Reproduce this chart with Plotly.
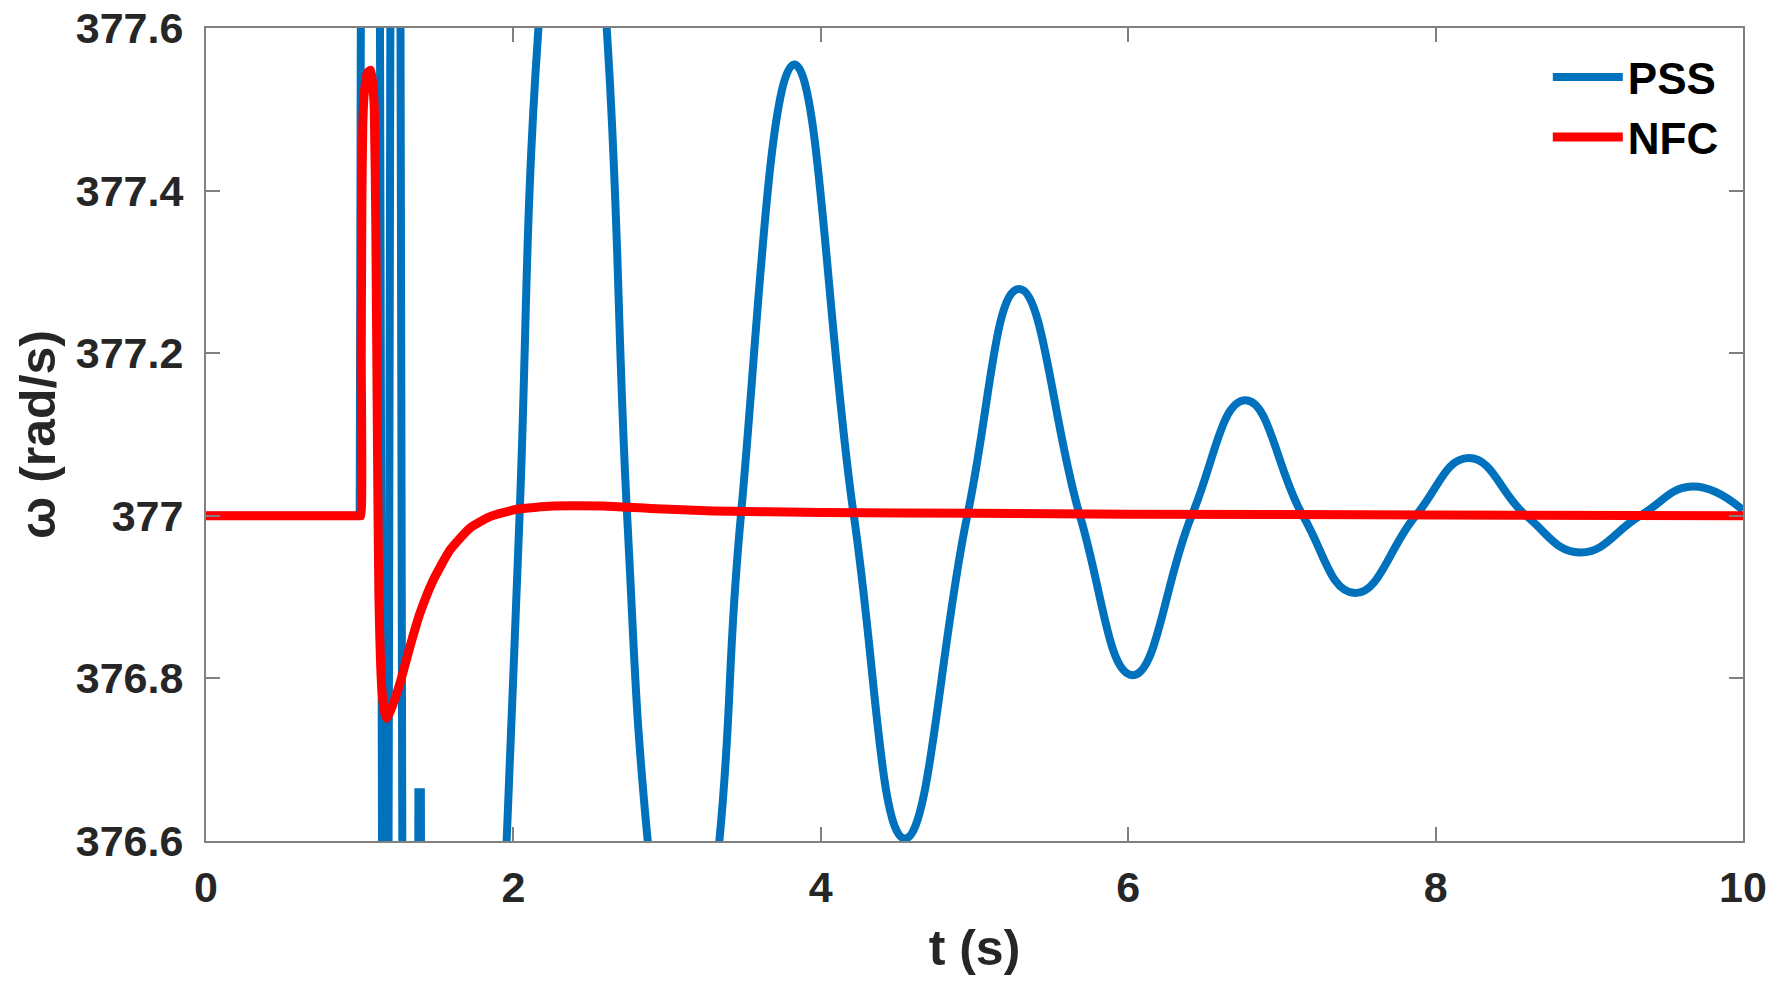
import plotly.graph_objects as go

# ---------------- data ----------------
# PSS, fast initial swings (straight segments)
pss_early_t = [0.0, 1.0, 1.018, 1.12, 1.16, 1.175, 1.21, 1.255, 1.29, 1.37, 1.382, 1.398, 1.41, 1.45]
pss_early_w = [377.0, 377.0, 378.5, 378.5, 375.5, 375.5, 378.5, 378.5, 375.5, 375.5, 376.66, 376.66, 375.5, 375.5]

# PSS, damped oscillation (peaks, troughs and level crossings)
pss_t = [1.45, 1.68, 1.956, 2.04, 2.163, 2.40, 2.607, 2.74, 2.874, 3.107, 3.34, 3.48,
         3.828, 4.215, 4.548, 4.953, 5.290, 5.686, 6.029, 6.413, 6.763, 7.137,
         7.474, 7.87, 8.215, 8.59, 8.94, 9.33, 9.67, 10.0]
pss_w = [375.5, 375.35, 376.6, 377.0, 377.6, 378.05, 377.6, 377.0, 376.6, 376.25, 376.6, 377.0,
         377.555, 377.0, 376.603, 377.0, 377.279, 377.0, 376.804, 377.0, 377.142, 377.0,
         376.905, 377.0, 377.071, 377.0, 376.955, 377.0, 377.036, 377.007]

# NFC
nfc_t = [0.0, 0.5, 0.95, 1.0, 1.007, 1.01, 1.014, 1.02, 1.03, 1.05, 1.07, 1.085, 1.095, 1.105,
         1.115, 1.125, 1.143, 1.16, 1.176, 1.20, 1.262, 1.327, 1.392, 1.479, 1.588, 1.718, 1.848,
         2.021, 2.26, 2.585, 2.889, 3.3, 4.0, 5.0, 6.0, 8.0, 10.0]
nfc_w = [377.0, 377.0, 377.0, 377.0, 377.0, 377.2, 377.38, 377.48, 377.52, 377.545, 377.548,
         377.53, 377.5, 377.35, 377.1, 376.9, 376.79, 376.76, 376.751, 376.76, 376.794, 376.839,
         376.880, 376.921, 376.958, 376.985, 376.999, 377.008, 377.012, 377.012, 377.009,
         377.006, 377.004, 377.003, 377.002, 377.001, 377.0]

x_ticks = [0, 2, 4, 6, 8, 10]
y_ticks = [376.6, 376.8, 377.0, 377.2, 377.4, 377.6]

# ---------------- figure ----------------
BLUE = "#0072BD"
RED = "#FF0000"
FONT = "Liberation Sans, Arial, Helvetica, sans-serif"
TXT = "#262626"
AX = "#808080"

fig = go.Figure()
fig.add_trace(go.Scatter(x=pss_early_t, y=pss_early_w, mode="lines",
                         line=dict(color=BLUE, width=8), legendgroup="pss",
                         showlegend=False, name="PSS"))
fig.add_trace(go.Scatter(x=pss_t, y=pss_w, mode="lines",
                         line=dict(color=BLUE, width=8, shape="spline", smoothing=1.3),
                         legendgroup="pss", name="PSS"))
fig.add_trace(go.Scatter(x=nfc_t, y=nfc_w, mode="lines",
                         line=dict(color=RED, width=9, shape="spline", smoothing=0.5),
                         name="NFC"))

axis_common = dict(showline=True, linecolor=AX, linewidth=2, mirror="ticks",
                   ticks="inside", ticklen=14, tickwidth=2, tickcolor=AX,
                   showgrid=False, zeroline=False, automargin=False,
                   ticklabeloverflow="allow",
                   tickfont=dict(family=FONT, size=43, color=TXT, weight="bold"))

fig.update_xaxes(range=[0, 10], tickvals=x_ticks, ticklabelstandoff=7,
                 title=dict(text="t (s)", standoff=20,
                            font=dict(family=FONT, size=50, color=TXT, weight="bold")),
                 **axis_common)
fig.update_yaxes(range=[376.6, 377.6], tickvals=y_ticks, ticklabelstandoff=12,
                 title=dict(text="ω (rad/s)", standoff=4,
                            font=dict(family=FONT, size=50, color=TXT, weight="bold")),
                 **axis_common)

fig.update_layout(
    width=1785, height=995,
    margin=dict(l=206, r=42, t=28, b=154),
    plot_bgcolor="white", paper_bgcolor="white",
    legend=dict(x=0.873, y=0.983, xanchor="left", yanchor="top",
                bgcolor="rgba(0,0,0,0)", borderwidth=0, itemwidth=70,
                font=dict(family=FONT, size=44, color="black", weight="bold"),
                tracegroupgap=0),
)

# remove the default 8 px page margin so the figure sits at the window origin
fig.write_html("out.html", config={"displayModeBar": False},
               post_script="document.body.style.margin='0px';")
